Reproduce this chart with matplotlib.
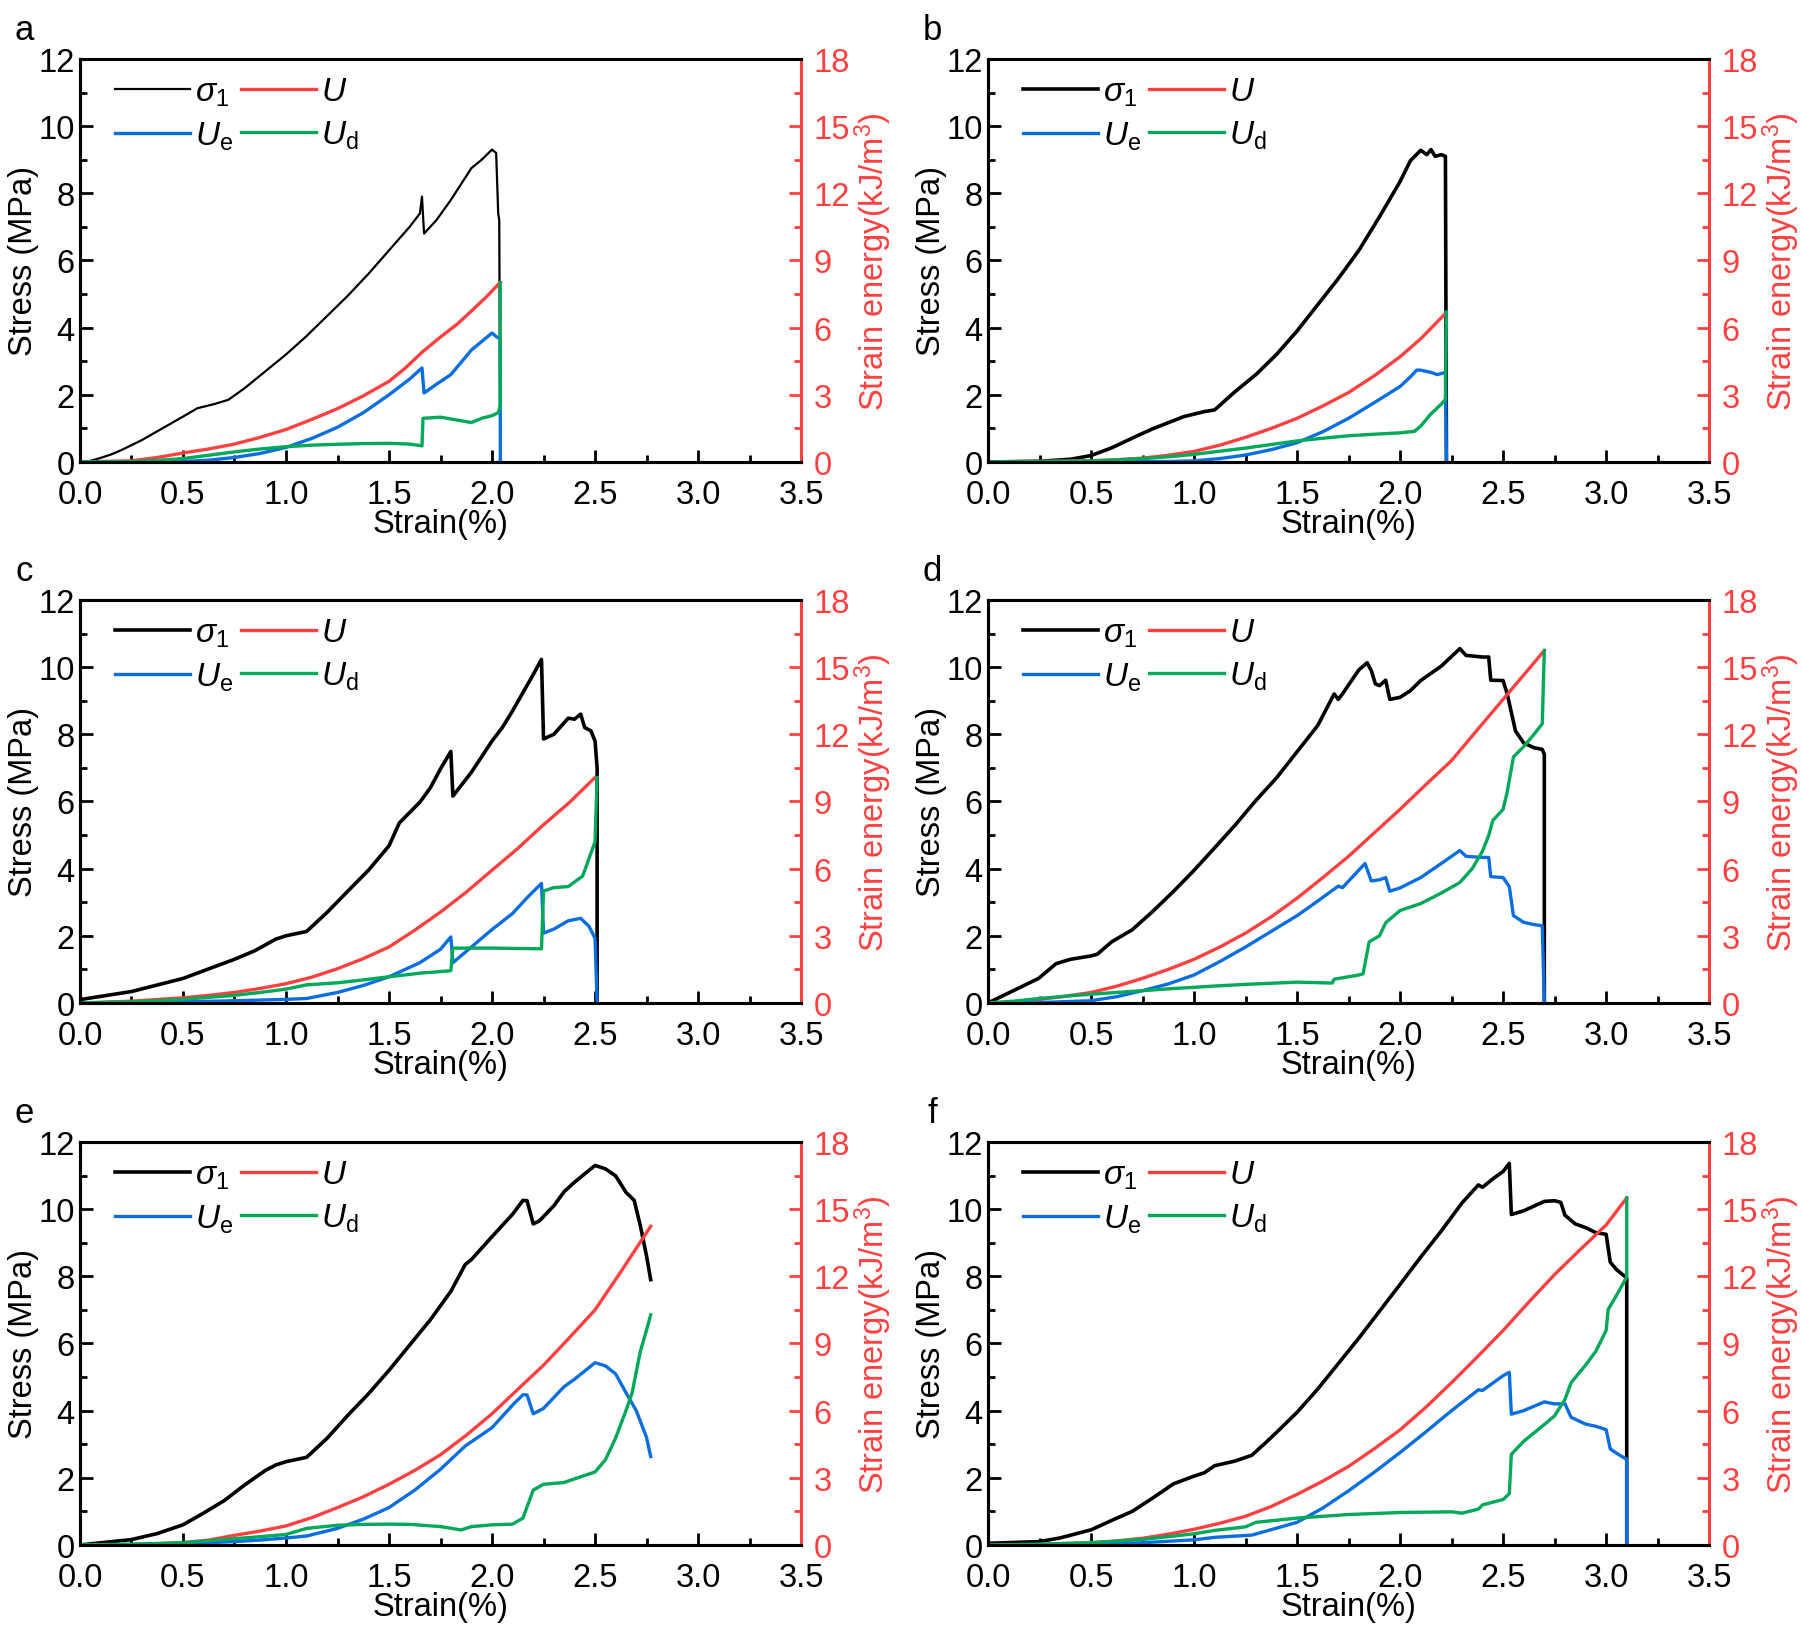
import numpy as np
import matplotlib.pyplot as plt
from matplotlib.ticker import MultipleLocator

plt.rcParams['font.family'] = ['Liberation Sans', 'DejaVu Sans']
plt.rcParams['mathtext.fontset'] = 'custom'
plt.rcParams['mathtext.rm'] = 'Liberation Sans'
plt.rcParams['mathtext.it'] = 'Liberation Sans:italic'

BLACK = '#000000'
RED = '#FF4040'
BLUE = '#0A6EE0'
GREEN = '#00A85A'

# ---- panel a ----
a_s_x = [0, 0.05, 0.1, 0.15, 0.2, 0.3, 0.4, 0.5, 0.57, 0.65, 0.72, 0.8, 0.9, 1.0, 1.1, 1.2, 1.3, 1.4, 1.5, 1.6, 1.65,
         1.66, 1.67, 1.7, 1.73, 1.8, 1.9, 1.95, 2.0, 2.02, 2.03, 2.035, 2.04]
a_s_y = [0, 0.03, 0.12, 0.22, 0.35, 0.65, 1.0, 1.35, 1.6, 1.72, 1.85, 2.2, 2.7, 3.2, 3.75, 4.35, 4.95, 5.6, 6.3, 7.0, 7.4,
         7.9, 6.8, 7.0, 7.2, 7.8, 8.75, 9.0, 9.3, 9.2, 7.4, 7.2, 0]
a_u_x = [0, 0.25, 0.375, 0.5, 0.625, 0.75, 0.875, 1.0, 1.125, 1.25, 1.375, 1.5, 1.58, 1.66, 1.75, 1.83, 1.9, 1.97, 2.04]
a_u_y = [0, 0.05, 0.2, 0.4, 0.58, 0.8, 1.1, 1.45, 1.9, 2.38, 2.95, 3.6, 4.2, 4.9, 5.58, 6.15, 6.74, 7.35, 8.02]
a_e_x = [0, 0.5, 0.625, 0.75, 0.875, 1.0, 1.125, 1.25, 1.375, 1.5, 1.6, 1.66, 1.67, 1.73, 1.8, 1.9, 2.0, 2.02,
         2.04, 2.04]
a_e_y = [0, 0.02, 0.08, 0.2, 0.38, 0.65, 1.05, 1.55, 2.2, 3.0, 3.7, 4.2, 3.08, 3.47, 3.9, 5.0, 5.76, 5.6, 5.5, 0]
a_d_x = [0, 0.25, 0.375, 0.5, 0.625, 0.75, 0.875, 1.0, 1.125, 1.25, 1.375, 1.5, 1.6, 1.66, 1.665, 1.75, 1.85,
         1.9, 1.95, 2.0, 2.03, 2.04, 2.04]
a_d_y = [0, 0.02, 0.07, 0.15, 0.3, 0.45, 0.58, 0.68, 0.75, 0.79, 0.82, 0.83, 0.8, 0.72, 1.95, 2.0, 1.84,
         1.76, 1.95, 2.07, 2.2, 2.5, 8.0]

# ---- panel b ----
b_s_x = [0, 0.25, 0.4, 0.5, 0.6, 0.7, 0.8, 0.95, 1.05, 1.1, 1.2, 1.3, 1.4, 1.5, 1.6, 1.7, 1.8, 1.9, 2.0,
         2.05, 2.1, 2.13, 2.15, 2.17, 2.2, 2.22, 2.225]
b_s_y = [0, 0.02, 0.08, 0.19, 0.42, 0.71, 0.99, 1.35, 1.5, 1.55, 2.1, 2.6, 3.2, 3.9, 4.68, 5.46, 6.3, 7.3, 8.35,
         8.97, 9.28, 9.15, 9.3, 9.1, 9.15, 9.1, 0]
b_u_x = [0, 0.5, 0.625, 0.75, 0.875, 1.0, 1.125, 1.25, 1.375, 1.5, 1.625, 1.75, 1.875, 2.0, 2.1, 2.22]
b_u_y = [0, 0.05, 0.1, 0.17, 0.3, 0.47, 0.75, 1.1, 1.5, 1.95, 2.5, 3.1, 3.85, 4.7, 5.5, 6.63]
b_e_x = [0, 0.875, 1.0, 1.125, 1.25, 1.375, 1.5, 1.625, 1.75, 1.875, 2.0, 2.05, 2.08, 2.1, 2.15, 2.18, 2.22, 2.225]
b_e_y = [0, 0.02, 0.05, 0.15, 0.31, 0.55, 0.86, 1.35, 1.95, 2.65, 3.37, 3.8, 4.1, 4.1, 4.0, 3.9, 4.0, 0]
b_d_x = [0, 0.5, 0.625, 0.75, 0.875, 1.0, 1.125, 1.25, 1.375, 1.5, 1.625, 1.75, 1.875, 2.0, 2.07, 2.1, 2.15,
         2.2, 2.22, 2.225]
b_d_y = [0, 0.05, 0.09, 0.15, 0.23, 0.34, 0.48, 0.62, 0.78, 0.94, 1.06, 1.17, 1.24, 1.3, 1.37, 1.6, 2.15,
         2.58, 2.8, 6.7]

# ---- panel c ----
c_s_x = [0, 0.25, 0.5, 0.75, 0.85, 0.95, 1.0, 1.1, 1.2, 1.3, 1.4, 1.5, 1.55, 1.65, 1.7, 1.75, 1.8,
         1.81, 1.9, 2.0, 2.05, 2.1, 2.2, 2.24, 2.25, 2.3, 2.37, 2.4, 2.43, 2.45, 2.48, 2.5, 2.51, 2.51]
c_s_y = [0.1, 0.34, 0.73, 1.3, 1.56, 1.9, 2.0, 2.13, 2.7, 3.33, 3.95, 4.68, 5.36, 5.98, 6.4, 6.97, 7.49,
         6.16, 6.87, 7.8, 8.2, 8.7, 9.78, 10.23, 7.86, 8.0, 8.48, 8.45, 8.6, 8.2, 8.1, 7.8, 7.0, 0]
c_u_x = [0, 0.25, 0.5, 0.625, 0.75, 0.875, 1.0, 1.125, 1.25, 1.375, 1.5, 1.625, 1.75, 1.875, 2.0, 2.125,
         2.24, 2.375, 2.5]
c_u_y = [0, 0.08, 0.23, 0.34, 0.47, 0.65, 0.86, 1.15, 1.53, 1.98, 2.5, 3.25, 4.06, 4.95, 5.93, 6.9,
         7.88, 8.95, 10.07]
c_e_x = [0, 0.5, 0.75, 1.0, 1.1, 1.25, 1.375, 1.5, 1.65, 1.75, 1.8, 1.81, 1.9, 2.0, 2.1, 2.17, 2.24, 2.25,
         2.3, 2.37, 2.43, 2.47, 2.5, 2.51]
c_e_y = [0, 0.05, 0.1, 0.16, 0.2, 0.47, 0.78, 1.17, 1.8, 2.4, 2.95, 1.8, 2.5, 3.28, 4.0, 4.7, 5.34, 3.12,
         3.3, 3.67, 3.78, 3.43, 2.89, 0]
c_d_x = [0, 0.25, 0.5, 0.75, 0.875, 1.0, 1.1, 1.25, 1.375, 1.5, 1.65, 1.8, 1.81, 2.0, 2.24, 2.25, 2.3,
         2.37, 2.44, 2.5, 2.51]
c_d_y = [0, 0.05, 0.16, 0.34, 0.47, 0.62, 0.81, 0.9, 1.03, 1.17, 1.33, 1.44, 2.45, 2.45, 2.42, 5.0, 5.15,
         5.2, 5.67, 7.2, 10.07]

# ---- panel d ----
d_s_x = [0, 0.245, 0.33, 0.4, 0.5, 0.53, 0.6, 0.7, 0.8, 0.9, 1.0, 1.1, 1.2, 1.3, 1.4, 1.5, 1.6, 1.68, 1.7,
         1.72, 1.8, 1.84, 1.86, 1.88, 1.9, 1.93, 1.95, 2.0, 2.05, 2.1, 2.2, 2.29, 2.32, 2.4, 2.43, 2.44,
         2.5, 2.52, 2.56, 2.6, 2.65, 2.69, 2.7, 2.7]
d_s_y = [0, 0.73, 1.17, 1.3, 1.4, 1.45, 1.82, 2.18, 2.73, 3.32, 3.95, 4.62, 5.3, 6.03, 6.7, 7.48, 8.26, 9.2, 9.04,
         9.2, 9.92, 10.13, 9.9, 9.5, 9.45, 9.61, 9.04, 9.1, 9.3, 9.6, 10.03, 10.55, 10.35, 10.3, 10.3, 9.61,
         9.6, 9.2, 8.1, 7.74, 7.6, 7.55, 7.4, 0]
d_u_x = [0, 0.125, 0.25, 0.375, 0.5, 0.625, 0.75, 0.875, 1.0, 1.125, 1.25, 1.375, 1.5, 1.625, 1.75, 1.875,
         2.0, 2.125, 2.25, 2.375, 2.5, 2.6, 2.7]
d_u_y = [0, 0.05, 0.16, 0.3, 0.47, 0.75, 1.1, 1.5, 1.95, 2.5, 3.12, 3.85, 4.68, 5.6, 6.55, 7.6,
         8.65, 9.75, 10.83, 12.2, 13.56, 14.65, 15.74]
d_e_x = [0, 0.25, 0.5, 0.625, 0.75, 0.875, 1.0, 1.125, 1.25, 1.375, 1.5, 1.6, 1.7, 1.72, 1.83, 1.86, 1.9,
         1.93, 1.95, 2.0, 2.1, 2.2, 2.29, 2.32, 2.4, 2.43, 2.44, 2.5, 2.53, 2.55, 2.6, 2.65, 2.69, 2.7]
d_e_y = [0, 0.02, 0.1, 0.28, 0.55, 0.85, 1.25, 1.85, 2.5, 3.2, 3.9, 4.55, 5.22, 5.15, 6.23, 5.45, 5.5,
         5.6, 4.99, 5.14, 5.6, 6.23, 6.81, 6.55, 6.5, 6.5, 5.64, 5.6, 5.2, 3.9, 3.6, 3.5, 3.45, 0]
d_d_x = [0, 0.125, 0.25, 0.375, 0.5, 0.625, 0.75, 0.875, 1.0, 1.125, 1.25, 1.375, 1.5, 1.67, 1.68, 1.8,
         1.82, 1.85, 1.9, 1.93, 2.0, 2.1, 2.2, 2.29, 2.35, 2.4, 2.43, 2.45, 2.5, 2.52, 2.55, 2.6, 2.65,
         2.69, 2.7]
d_d_y = [0, 0.08, 0.2, 0.3, 0.39, 0.47, 0.55, 0.63, 0.7, 0.77, 0.83, 0.88, 0.93, 0.89, 1.06, 1.25,
         1.3, 2.73, 3.0, 3.58, 4.13, 4.44, 4.91, 5.38, 6.0, 6.78, 7.48, 8.15, 8.65, 9.43, 10.99, 11.45, 12.0,
         12.47, 15.74]

# ---- panel e ----
e_s_x = [0, 0.25, 0.375, 0.5, 0.6, 0.7, 0.8, 0.9, 0.95, 1.0, 1.1, 1.2, 1.3, 1.4, 1.5, 1.6, 1.7, 1.8, 1.87, 1.9,
         2.0, 2.1, 2.15, 2.17, 2.2, 2.23, 2.3, 2.35, 2.4, 2.5, 2.55, 2.6, 2.65, 2.69, 2.72, 2.75, 2.77]
e_s_y = [0, 0.16, 0.34, 0.6, 0.95, 1.32, 1.79, 2.22, 2.38, 2.48, 2.61, 3.18, 3.86, 4.5, 5.2, 5.95, 6.7, 7.55,
         8.35, 8.5, 9.18, 9.85, 10.26, 10.25, 9.56, 9.65, 10.1, 10.52, 10.8, 11.3, 11.2, 10.99, 10.5, 10.26,
         9.5, 8.6, 7.9]
e_u_x = [0, 0.25, 0.5, 0.625, 0.75, 0.875, 1.0, 1.125, 1.25, 1.375, 1.5, 1.625, 1.75, 1.875, 2.0, 2.125,
         2.25, 2.375, 2.5, 2.625, 2.77]
e_u_y = [0, 0.02, 0.1, 0.22, 0.43, 0.62, 0.85, 1.22, 1.67, 2.15, 2.71, 3.33, 4.03, 4.9, 5.86, 6.95,
         8.03, 9.25, 10.5, 12.2, 14.23]
e_e_x = [0, 0.5, 0.75, 0.875, 1.0, 1.1, 1.25, 1.375, 1.5, 1.625, 1.75, 1.87, 2.0, 2.1, 2.15, 2.17, 2.2,
         2.25, 2.35, 2.4, 2.5, 2.55, 2.6, 2.65, 2.7, 2.75, 2.77]
e_e_y = [0, 0.05, 0.15, 0.22, 0.31, 0.4, 0.74, 1.15, 1.67, 2.45, 3.38, 4.42, 5.24, 6.25, 6.71, 6.7, 5.86,
         6.1, 7.07, 7.4, 8.14, 8.0, 7.64, 6.8, 6.0, 4.8, 3.95]
e_d_x = [0, 0.25, 0.5, 0.75, 0.875, 1.0, 1.1, 1.25, 1.375, 1.5, 1.6, 1.75, 1.85, 1.9, 2.0, 2.1, 2.15, 2.2,
         2.25, 2.35, 2.4, 2.5, 2.55, 2.6, 2.65, 2.68, 2.72, 2.75, 2.77]
e_d_y = [0, 0.03, 0.1, 0.28, 0.37, 0.47, 0.74, 0.88, 0.92, 0.93, 0.92, 0.82, 0.67, 0.82, 0.9, 0.93, 1.2,
         2.45, 2.71, 2.79, 2.95, 3.26, 3.8, 4.78, 6.0, 6.8, 8.65, 9.6, 10.28]

# ---- panel f ----
f_s_x = [0, 0.25, 0.35, 0.5, 0.6, 0.7, 0.8, 0.9, 1.0, 1.05, 1.1, 1.2, 1.28, 1.35, 1.4, 1.5, 1.6, 1.7, 1.8,
         1.9, 2.0, 2.1, 2.2, 2.3, 2.38, 2.4, 2.45, 2.5, 2.53, 2.54, 2.6, 2.7, 2.75, 2.78, 2.8, 2.85, 2.9,
         2.95, 3.0, 3.02, 3.05, 3.1, 3.1]
f_s_y = [0.05, 0.1, 0.21, 0.45, 0.73, 1.0, 1.4, 1.82, 2.05, 2.15, 2.36, 2.5, 2.67, 3.06, 3.35, 3.95, 4.64, 5.4,
         6.16, 6.96, 7.76, 8.57, 9.35, 10.18, 10.72, 10.65, 10.9, 11.12, 11.36, 9.84, 9.95, 10.23, 10.25,
         10.2, 9.82, 9.56, 9.45, 9.3, 9.25, 8.42, 8.2, 7.95, 0]
f_u_x = [0, 0.25, 0.5, 0.625, 0.75, 0.875, 1.0, 1.125, 1.25, 1.375, 1.5, 1.625, 1.75, 1.875, 2.0, 2.125,
         2.25, 2.375, 2.5, 2.625, 2.75, 2.875, 3.0, 3.1]
f_u_y = [0, 0.03, 0.1, 0.18, 0.3, 0.48, 0.7, 0.97, 1.28, 1.72, 2.26, 2.85, 3.51, 4.3, 5.14, 6.15,
         7.25, 8.4, 9.58, 10.85, 12.08, 13.2, 14.29, 15.5]
f_e_x = [0, 0.5, 0.75, 1.0, 1.1, 1.28, 1.4, 1.5, 1.625, 1.75, 1.875, 2.0, 2.125, 2.25, 2.38, 2.4, 2.5, 2.53,
         2.54, 2.6, 2.7, 2.75, 2.8, 2.83, 2.9, 2.95, 3.0, 3.02, 3.05, 3.1, 3.1]
f_e_y = [0, 0.03, 0.1, 0.23, 0.34, 0.44, 0.75, 1.01, 1.65, 2.42, 3.25, 4.13, 5.05, 6.0, 6.93, 6.9, 7.56, 7.71,
         5.84, 6.0, 6.39, 6.3, 6.31, 5.7, 5.4, 5.3, 5.15, 4.29, 4.1, 3.82, 0]
f_d_x = [0, 0.25, 0.5, 0.75, 0.875, 1.0, 1.1, 1.25, 1.3, 1.5, 1.75, 2.0, 2.25, 2.3, 2.38, 2.4, 2.5, 2.53,
         2.54, 2.6, 2.7, 2.75, 2.8, 2.83, 2.9, 2.95, 3.0, 3.01, 3.05, 3.1, 3.1]
f_d_y = [0, 0.03, 0.1, 0.25, 0.37, 0.5, 0.65, 0.81, 1.01, 1.2, 1.36, 1.45, 1.48, 1.42, 1.6, 1.79, 2.03,
         2.29, 4.05, 4.63, 5.38, 5.77, 6.5, 7.25, 8.03, 8.65, 9.58, 10.52, 11.14, 11.97, 15.5]

panels = [
    ('a', a_s_x, a_s_y, a_u_x, a_u_y, a_e_x, a_e_y, a_d_x, a_d_y),
    ('b', b_s_x, b_s_y, b_u_x, b_u_y, b_e_x, b_e_y, b_d_x, b_d_y),
    ('c', c_s_x, c_s_y, c_u_x, c_u_y, c_e_x, c_e_y, c_d_x, c_d_y),
    ('d', d_s_x, d_s_y, d_u_x, d_u_y, d_e_x, d_e_y, d_d_x, d_d_y),
    ('e', e_s_x, e_s_y, e_u_x, e_u_y, e_e_x, e_e_y, e_d_x, e_d_y),
    ('f', f_s_x, f_s_y, f_u_x, f_u_y, f_e_x, f_e_y, f_d_x, f_d_y),
]

fig = plt.figure(figsize=(18.01, 16.33), dpi=100)
lefts = [0.0444, 0.5486]
bottoms = [0.7165, 0.3852, 0.0533]
W, H = 0.4004, 0.2468
FS = 23.5

for i, (tag, sx, sy, ux, uy, ex, ey, dx, dy) in enumerate(panels):
    col, row = i % 2, i // 2
    ax = fig.add_axes([lefts[col], bottoms[row], W, H])
    ax2 = ax.twinx()

    lw_s = 1.6 if tag == 'a' else 2.6
    l1, = ax.plot(sx, sy, color=BLACK, lw=lw_s)
    l2, = ax2.plot(ux, uy, color=RED, lw=2.4)
    l3, = ax2.plot(ex, ey, color=BLUE, lw=2.4)
    l4, = ax2.plot(dx, dy, color=GREEN, lw=2.4)

    ax.set_xlim(0, 3.5)
    ax.set_ylim(0, 12)
    ax2.set_ylim(0, 18)
    ax.xaxis.set_major_locator(MultipleLocator(0.5))
    ax.xaxis.set_minor_locator(MultipleLocator(0.25))
    ax.yaxis.set_major_locator(MultipleLocator(2))
    ax.yaxis.set_minor_locator(MultipleLocator(1))
    ax2.yaxis.set_major_locator(MultipleLocator(3))
    ax2.yaxis.set_minor_locator(MultipleLocator(1.5))
    ax.xaxis.set_major_formatter(plt.FormatStrFormatter('%.1f'))

    ax.tick_params(which='both', direction='in', width=2, labelsize=FS, top=False, right=False)
    ax.tick_params(which='major', length=9)
    ax.tick_params(which='minor', length=5)
    ax.tick_params(axis='x', which='both', pad=12.5)
    ax.tick_params(axis='y', which='both', pad=4)
    ax2.tick_params(which='both', direction='in', width=2, labelsize=FS, colors=RED, pad=9)
    ax2.tick_params(which='major', length=9)
    ax2.tick_params(which='minor', length=5)

    for sp in ['left', 'bottom', 'top']:
        ax.spines[sp].set_linewidth(2.2)
        ax2.spines[sp].set_linewidth(2.2)
    ax2.spines['right'].set_linewidth(2.2)
    ax2.spines['right'].set_color(RED)
    ax.spines['right'].set_visible(False)

    ax.set_xlabel('Strain(%)', fontsize=FS, labelpad=-2)
    ax.set_ylabel('Stress (MPa)', fontsize=FS, labelpad=-1)
    ax2.set_ylabel('Strain energy(kJ/m$^3$)', fontsize=FS, color=RED, labelpad=2)

    ax2.legend([l1, l3, l2, l4], [r'$\sigma_1$', r'$U_\mathrm{e}$', r'$U$', r'$U_\mathrm{d}$'],
               ncol=2, loc='upper left', bbox_to_anchor=(0.03, 0.99), frameon=False, fontsize=24,
               handlelength=2.25, handletextpad=0.15, columnspacing=0.25, labelspacing=0.35,
               borderaxespad=0)

    fig.text(lefts[col] - 0.031, bottoms[row] + H + 0.018, tag, fontsize=25, ha='center', va='center')

fig.savefig('out.png', dpi=100)
